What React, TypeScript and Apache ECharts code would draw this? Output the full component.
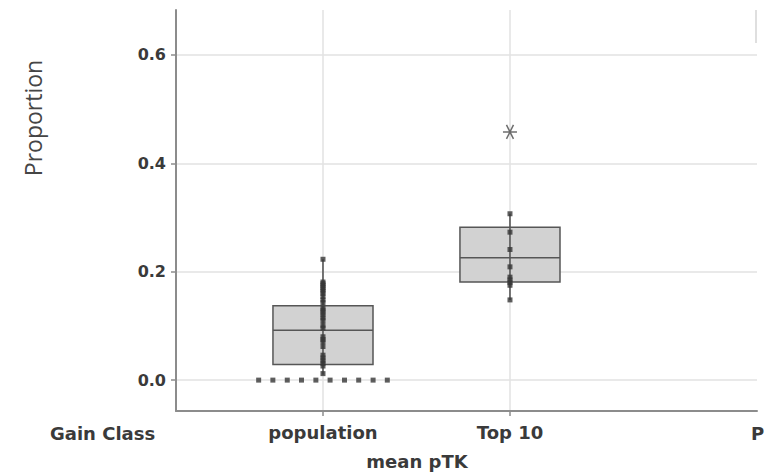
import React, { useEffect, useRef } from 'react';
import * as echarts from 'echarts';

// ---- data ----
const categoryLabels = ['population', 'Top 10'];
const categoryPositions = [0, 1];
const nextGroupLabel = 'P';
const yTicks = [0, 0.2, 0.4, 0.6];

// [x, lower whisker, Q1, median, Q3, upper whisker]
const populationBox = [0, 0.01, 0.029, 0.092, 0.137, 0.223];
const top10Box = [1, 0.148, 0.181, 0.226, 0.282, 0.307];

const populationPoints = [
  0.223, 0.181, 0.178, 0.175, 0.171, 0.168, 0.164, 0.16, 0.154, 0.148, 0.143,
  0.133, 0.129, 0.125, 0.12, 0.115, 0.11, 0.101, 0.096, 0.08, 0.075, 0.071,
  0.062, 0.046, 0.041, 0.036, 0.031, 0.026, 0.012,
];
// observations at exactly 0, drawn side by side
const populationZeroOffsets = [-0.344, -0.268, -0.191, -0.115, -0.038, 0.038, 0.115, 0.191, 0.268, 0.344];
const populationZeroValue = 0;

const top10Points = [0.307, 0.273, 0.241, 0.209, 0.19, 0.185, 0.18, 0.175, 0.148];
const top10Outliers = [0.458];

const BOX_WIDTH_UNITS = 0.535;

export default function App() {
  const ref = useRef<HTMLDivElement>(null);

  useEffect(() => {
    if (!ref.current) return;
    const chart = echarts.init(ref.current, undefined, { renderer: 'svg' });

    const textColor = '#3a3a3a';
    const axisColor = '#8c8c8c';
    const gridColor = '#e2e2e2';

    const option: any = {
      animation: false,
      backgroundColor: '#ffffff',
      grid: { left: 176, top: 10, width: 581, height: 401, containLabel: false, outerBoundsMode: 'none' },
      xAxis: {
        type: 'value',
        min: -0.786,
        max: 2.321,
        axisLine: { show: true, onZero: false, lineStyle: { color: axisColor, width: 2 } },
        axisTick: { show: true, customValues: categoryPositions, length: 5, lineStyle: { color: axisColor, width: 1.5 } },
        axisLabel: {
          customValues: categoryPositions,
          formatter: (v: number) => {
            const i = categoryPositions.findIndex((p) => Math.abs(p - v) < 1e-6);
            return i >= 0 ? categoryLabels[i] : '';
          },
          margin: 12,
          color: textColor,
          fontFamily: 'DejaVu Sans',
          fontWeight: 'bold',
          fontSize: 18,
        },
        splitLine: { show: true, lineStyle: { color: gridColor, width: 1.5 } },
      },
      yAxis: {
        type: 'value',
        min: -0.057,
        max: 0.683,
        axisLine: { show: true, onZero: false, lineStyle: { color: axisColor, width: 2 } },
        axisTick: { show: true, customValues: yTicks, length: 5, lineStyle: { color: axisColor, width: 1.5 } },
        axisLabel: {
          customValues: yTicks,
          formatter: (v: number) => v.toFixed(1),
          margin: 10,
          color: textColor,
          fontFamily: 'DejaVu Sans',
          fontWeight: 'bold',
          fontSize: 16,
        },
        splitLine: { show: true, lineStyle: { color: gridColor, width: 1.5 } },
      },
      graphic: [
        {
          type: 'text',
          x: 33,
          y: 118,
          rotation: Math.PI / 2,
          style: {
            text: 'Proportion',
            textAlign: 'center',
            textVerticalAlign: 'middle',
            fontFamily: 'Open Sans',
            fontSize: 23,
            fill: '#454545',
          },
        },
        {
          type: 'text',
          x: 50,
          y: 433,
          style: {
            text: 'Gain Class',
            textAlign: 'left',
            textVerticalAlign: 'middle',
            fontFamily: 'DejaVu Sans',
            fontWeight: 'bold',
            fontSize: 18,
            fill: textColor,
          },
        },
        {
          type: 'text',
          x: 417,
          y: 461,
          style: {
            text: 'mean pTK',
            textAlign: 'center',
            textVerticalAlign: 'middle',
            fontFamily: 'DejaVu Sans',
            fontWeight: 'bold',
            fontSize: 18,
            fill: textColor,
          },
        },
        {
          type: 'text',
          x: 751,
          y: 433,
          style: {
            text: nextGroupLabel,
            textAlign: 'left',
            textVerticalAlign: 'middle',
            fontFamily: 'DejaVu Sans',
            fontWeight: 'bold',
            fontSize: 18,
            fill: textColor,
          },
        },
        {
          type: 'line',
          shape: { x1: 756, y1: 10, x2: 756, y2: 43 },
          style: { stroke: '#d4d4d4', lineWidth: 1.5 },
        },
      ],
      series: [
        {
          type: 'custom',
          data: [populationBox, top10Box],
          encode: { x: 0, y: [1, 2, 3, 4, 5] },
          renderItem: (params: any, api: any) => {
            const x = api.value(0);
            const pMin = api.coord([x, api.value(1)]);
            const pQ1 = api.coord([x, api.value(2)]);
            const pMed = api.coord([x, api.value(3)]);
            const pQ3 = api.coord([x, api.value(4)]);
            const pMax = api.coord([x, api.value(5)]);
            const half = api.size([BOX_WIDTH_UNITS, 0])[0] / 2;
            const cx = pMed[0];
            const stroke = '#565656';
            return {
              type: 'group',
              children: [
                { type: 'line', shape: { x1: cx, y1: pMax[1], x2: cx, y2: pQ3[1] }, style: { stroke, lineWidth: 1.6 } },
                { type: 'line', shape: { x1: cx, y1: pQ1[1], x2: cx, y2: pMin[1] }, style: { stroke, lineWidth: 1.6 } },
                {
                  type: 'rect',
                  shape: { x: cx - half, y: pQ3[1], width: half * 2, height: pQ1[1] - pQ3[1] },
                  style: { fill: '#d2d2d2', stroke, lineWidth: 1.5 },
                },
                { type: 'line', shape: { x1: cx, y1: pQ3[1], x2: cx, y2: pQ1[1] }, style: { stroke, lineWidth: 1.6 } },
                { type: 'line', shape: { x1: cx - half, y1: pMed[1], x2: cx + half, y2: pMed[1] }, style: { stroke, lineWidth: 1.5 } },
              ],
            };
          },
          z: 2,
        },
        {
          type: 'scatter',
          symbol: 'rect',
          symbolSize: 5,
          itemStyle: { color: '#363636' },
          data: [
            ...populationPoints.map((v) => [populationBox[0], v]),
            ...populationZeroOffsets.map((o) => [populationBox[0] + o, populationZeroValue]),
            ...top10Points.map((v) => [top10Box[0], v]),
          ],
          z: 3,
        },
        {
          type: 'scatter',
          symbol: 'path://M0,6L12,6M3,0.8L9,11.2M9,0.8L3,11.2',
          symbolSize: 14,
          itemStyle: { color: 'none', borderColor: '#4a4a4a', borderWidth: 1.5 },
          data: top10Outliers.map((v) => [top10Box[0], v]),
          z: 4,
        },
      ],
    };

    chart.setOption(option);
    return () => chart.dispose();
  }, []);

  return (
    <div style={{ position: 'fixed', left: 0, top: 0, width: 764, height: 473, background: '#ffffff' }}>
      <div ref={ref} style={{ width: 764, height: 473 }} />
    </div>
  );
}
